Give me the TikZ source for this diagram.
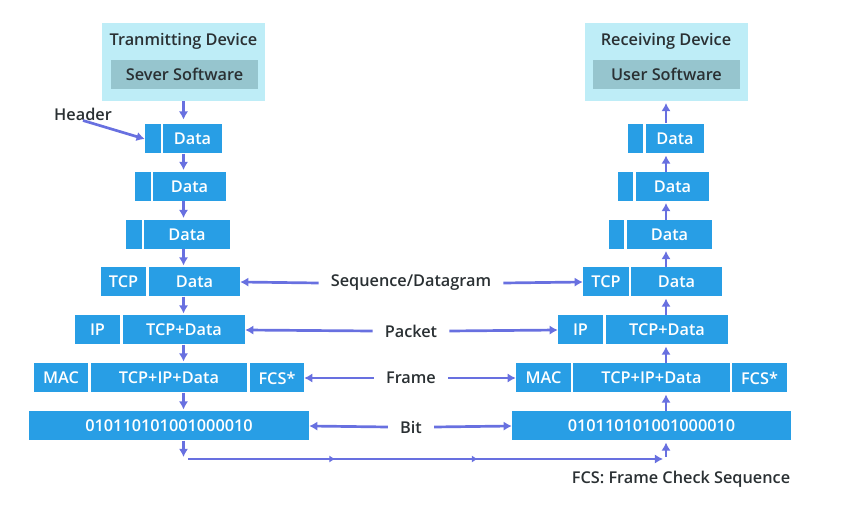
\documentclass[tikz,border=0pt]{standalone}
\usepackage{fontspec}
\setmainfont{Open Sans}[BoldFont={Open Sans Semibold}]
\usetikzlibrary{arrows.meta,decorations.markings}

\definecolor{segblue}{HTML}{289EE5}
\definecolor{devcyan}{HTML}{BEEDF7}
\definecolor{swgray}{HTML}{96C5CE}
\definecolor{flowblue}{HTML}{6870E0}
\definecolor{inkgray}{HTML}{2A3033}

\def\pw{0.03cm}

\tikzset{
  txt/.style={font=\fontsize{13.9}{16}\selectfont\bfseries},
  seg/.style={txt, fill=segblue, text=white, inner sep=0pt, minimum height=29*\pw},
  devbox/.style={fill=devcyan, inner sep=0pt, minimum width=163*\pw, minimum height=78*\pw},
  devtitle/.style={txt, text=inkgray, inner sep=0pt},
  swbox/.style={txt, fill=swgray, text=inkgray, inner sep=0pt, minimum width=147*\pw, minimum height=29*\pw},
  lbl/.style={txt, text=inkgray, inner xsep=0.36cm, inner ysep=0pt},
  flow/.style={draw=flowblue, line width=2.3pt, -{Latex[length=7pt,width=8pt]}},
  tick/.style={postaction={decorate}, decoration={markings,
    mark=at position 0.31 with {\arrow{Latex[length=5pt,width=6pt]}},
    mark=at position 0.61 with {\arrow{Latex[length=5pt,width=6pt]}}}},
}

\begin{document}
\begin{tikzpicture}[x=0.03cm, y=-0.03cm]
\useasboundingbox (0,0) rectangle (857,513);

% sending side
\node[devbox] (tdev) at (183.5,62) {};
\node[devtitle] (ttitle) at (183.5,41) {Tranmitting Device};
\node[swbox] (tsw) at (184.5,74.5) {Sever Software};
\node[seg, minimum width=16*\pw] (lhd1) at (153,139) {};
\node[seg, minimum width=59*\pw] (ldat1) at (192.5,139) {Data};
\node[seg, minimum width=16*\pw] (lhd2) at (143,186.5) {};
\node[seg, minimum width=73*\pw] (ldat2) at (189.5,186.5) {Data};
\node[seg, minimum width=16*\pw] (lhd3) at (134,234.5) {};
\node[seg, minimum width=86*\pw] (ldat3) at (187,234.5) {Data};
\node[seg, minimum width=45*\pw] (ltcp) at (123.5,282) {TCP};
\node[seg, minimum width=91*\pw] (ldat4) at (194.5,282) {Data};
\node[seg, minimum width=45*\pw] (lip) at (97.5,330) {IP};
\node[seg, minimum width=122*\pw] (ltd5) at (184,330) {TCP+Data};
\node[seg, minimum width=54*\pw] (lmac) at (61,378) {MAC};
\node[seg, minimum width=156*\pw] (ltid) at (169,378) {TCP+IP+Data};
\node[seg, minimum width=54*\pw] (lfcs) at (277,378) {FCS*};
\node[seg, minimum width=280*\pw] (lbit) at (169,426) {010110101001000010};
\node[devtitle] (hdr) at (83,114) {Header};

% receiving side
\node[devbox] (rdev) at (666,62) {};
\node[devtitle] (rtitle) at (666,41) {Receiving Device};
\node[swbox] (rsw) at (666.5,74.5) {User Software};
\node[seg, minimum width=15*\pw] (rhd1) at (635.5,139) {};
\node[seg, minimum width=58*\pw] (rdat1) at (675,139) {Data};
\node[seg, minimum width=15*\pw] (rhd2) at (625.5,186.5) {};
\node[seg, minimum width=73*\pw] (rdat2) at (672.5,186.5) {Data};
\node[seg, minimum width=15*\pw] (rhd3) at (616.5,234.5) {};
\node[seg, minimum width=85*\pw] (rdat3) at (669.5,234.5) {Data};
\node[seg, minimum width=46*\pw] (rtcp) at (606,282) {TCP};
\node[seg, minimum width=91*\pw] (rdat4) at (676.5,282) {Data};
\node[seg, minimum width=45*\pw] (rip) at (580.5,330) {IP};
\node[seg, minimum width=122*\pw] (rtd5) at (667,330) {TCP+Data};
\node[seg, minimum width=55*\pw] (rmac) at (543.5,378) {MAC};
\node[seg, minimum width=157*\pw] (rtid) at (651.5,378) {TCP+IP+Data};
\node[seg, minimum width=55*\pw] (rfcs) at (759.5,378) {FCS*};
\node[seg, minimum width=279*\pw] (rbit) at (651.5,426) {010110101001000010};
\node[devtitle] (fcsnote) at (681,479) {FCS: Frame Check Sequence};

% layer names
\node[lbl] (seqlbl) at (411,283) {Sequence/Datagram};
\node[lbl] (pktlbl) at (411,331) {Packet};
\node[lbl] (frmlbl) at (411,378) {Frame};
\node[lbl] (bitlbl) at (411,427) {Bit};

% down the sending stack
\draw[flow, shorten >=4pt] (tdev.south) -- (ldat1.north -| tdev.south);
\draw[flow, shorten >=1.5pt] (ldat1.south -| tdev) -- (ldat2.north -| tdev);
\draw[flow, shorten >=1.5pt] (ldat2.south -| tdev) -- (ldat3.north -| tdev);
\draw[flow, shorten >=1.5pt] (ldat3.south -| tdev) -- (ldat4.north -| tdev);
\draw[flow, shorten >=1.5pt] (ldat4.south -| tdev) -- (ltd5.north -| tdev);
\draw[flow, shorten >=1.5pt] (ltd5.south -| tdev) -- (ltid.north -| tdev);
\draw[flow, shorten >=1.5pt] (ltid.south -| tdev) -- (lbit.north -| tdev);
\draw[flow] (hdr.south) -- (lhd1.west);

% across the wire
\coordinate (lturn) at (183.5,457);
\coordinate (lrun) at (188,459);
\coordinate (rrun) at (663,459);
\coordinate (rturn) at (666,457);
\draw[flow] (lbit.south -| lturn) -- (lturn);
\draw[flow, tick] (lrun) -- (rrun);
\draw[flow, shorten >=1.5pt] (rturn) -- (rbit.south -| rturn);

% up the receiving stack
\draw[flow, shorten >=1.5pt] (rbit.north -| rdev) -- (rtid.south -| rdev);
\draw[flow, shorten >=1.5pt] (rtid.north -| rdev) -- (rtd5.south -| rdev);
\draw[flow, shorten >=1.5pt] (rtd5.north -| rdev) -- (rdat4.south -| rdev);
\draw[flow, shorten >=1.5pt] (rdat4.north -| rdev) -- (rdat3.south -| rdev);
\draw[flow, shorten >=1.5pt] (rdat3.north -| rdev) -- (rdat2.south -| rdev);
\draw[flow, shorten >=1.5pt] (rdat2.north -| rdev) -- (rdat1.south -| rdev);
\draw[flow, shorten >=1.5pt, shorten <=1pt] (rdat1.north -| rdev) -- (rdev.south);

% layer arrows
\draw[flow] (seqlbl.west) -- (ldat4.east);
\draw[flow] (seqlbl.east) -- (rtcp.west);
\draw[flow] (pktlbl.west) -- (ltd5.east);
\draw[flow] (pktlbl.east) -- (rip.west);
\draw[flow] (frmlbl.west) -- (lfcs.east);
\draw[flow] (frmlbl.east) -- (rmac.west);
\draw[flow] (bitlbl.west) -- (lbit.east);
\draw[flow] (bitlbl.east) -- (rbit.west);
\end{tikzpicture}
\end{document}
